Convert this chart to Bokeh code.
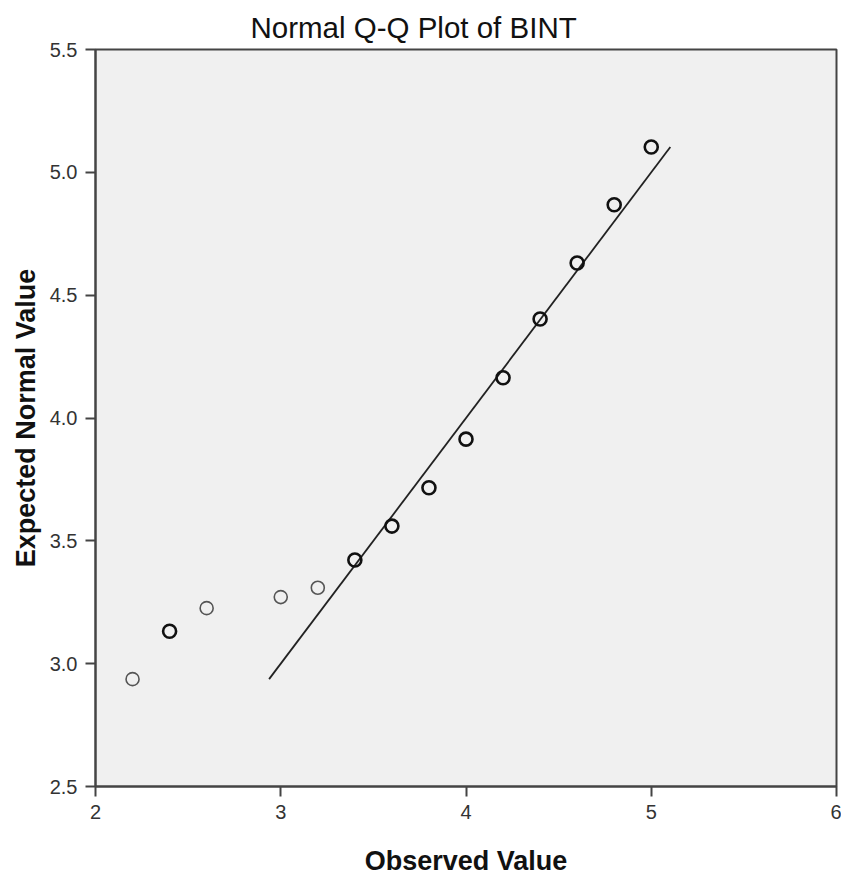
from bokeh.plotting import figure
from bokeh.models import ColumnDataSource, FixedTicker, Range1d, Title
from bokeh.embed import file_html
from bokeh.resources import INLINE

# Data
observed = [2.2, 2.4, 2.6, 3.0, 3.2, 3.4, 3.6, 3.8, 4.0, 4.2, 4.4, 4.6, 4.8, 5.0]
expected = [2.937, 3.132, 3.226, 3.271, 3.309, 3.422, 3.560, 3.716, 3.914,
            4.164, 4.403, 4.631, 4.868, 5.103]
case_counts = [1, 2, 1, 1, 1, 2, 2, 2, 2, 2, 2, 2, 2, 2]
x_ticks = [2, 3, 4, 5, 6]
y_ticks = [2.5, 3.0, 3.5, 4.0, 4.5, 5.0, 5.5]

widths = [1.6 if c == 1 else 2.6 for c in case_counts]
colors = ["#555555" if c == 1 else "#111111" for c in case_counts]
src = ColumnDataSource(dict(x=observed, y=expected, w=widths, c=colors))

p = figure(width=841, height=878, output_backend="svg", toolbar_location=None,
           x_range=Range1d(2, 6), y_range=Range1d(2.5, 5.5),
           min_border_left=95, min_border_right=5, min_border_top=49,
           min_border_bottom=87)
p.title = None
t = Title(text="Normal Q-Q Plot of BINT", align="left", offset=155,
          text_font="Liberation Sans", text_font_size="29.5px",
          text_font_style="normal", text_color="#111111", standoff=12)
p.add_layout(t, "above")

p.background_fill_color = "#f0f0f0"
p.border_fill_color = "white"
p.outline_line_color = "#444444"
p.outline_line_width = 2
p.grid.visible = False

for ax in (p.xaxis[0], p.yaxis[0]):
    ax.axis_line_color = "#444444"
    ax.axis_line_width = 2
    ax.major_tick_line_color = "#444444"
    ax.major_tick_line_width = 2
    ax.major_tick_out = 10
    ax.major_tick_in = 0
    ax.minor_tick_line_color = None
    ax.major_label_text_font = "Liberation Sans"
    ax.major_label_text_font_size = "20px"
    ax.major_label_text_color = "#333333"
    ax.axis_label_text_font = "Liberation Sans"
    ax.axis_label_text_font_size = "27px"
    ax.axis_label_text_font_style = "bold"
    ax.axis_label_text_color = "#111111"

p.xaxis.ticker = FixedTicker(ticks=x_ticks)
p.yaxis.ticker = FixedTicker(ticks=y_ticks)
p.yaxis.major_label_overrides = {v: f"{v:.1f}" for v in y_ticks}
p.xaxis.major_label_standoff = 8
p.yaxis.major_label_standoff = 8
p.xaxis.axis_label = "Observed Value"
p.yaxis.axis_label = "Expected Normal Value"
p.xaxis.axis_label_standoff = 24
p.yaxis.axis_label_standoff = 6

lo, hi = min(expected), max(expected)
p.line([lo, hi], [lo, hi], line_color="#222222", line_width=1.8)

p.scatter("x", "y", source=src, marker="circle", size=13, fill_color=None,
          line_color="c", line_width="w")

open("out.html", "w").write(file_html(p, INLINE))
